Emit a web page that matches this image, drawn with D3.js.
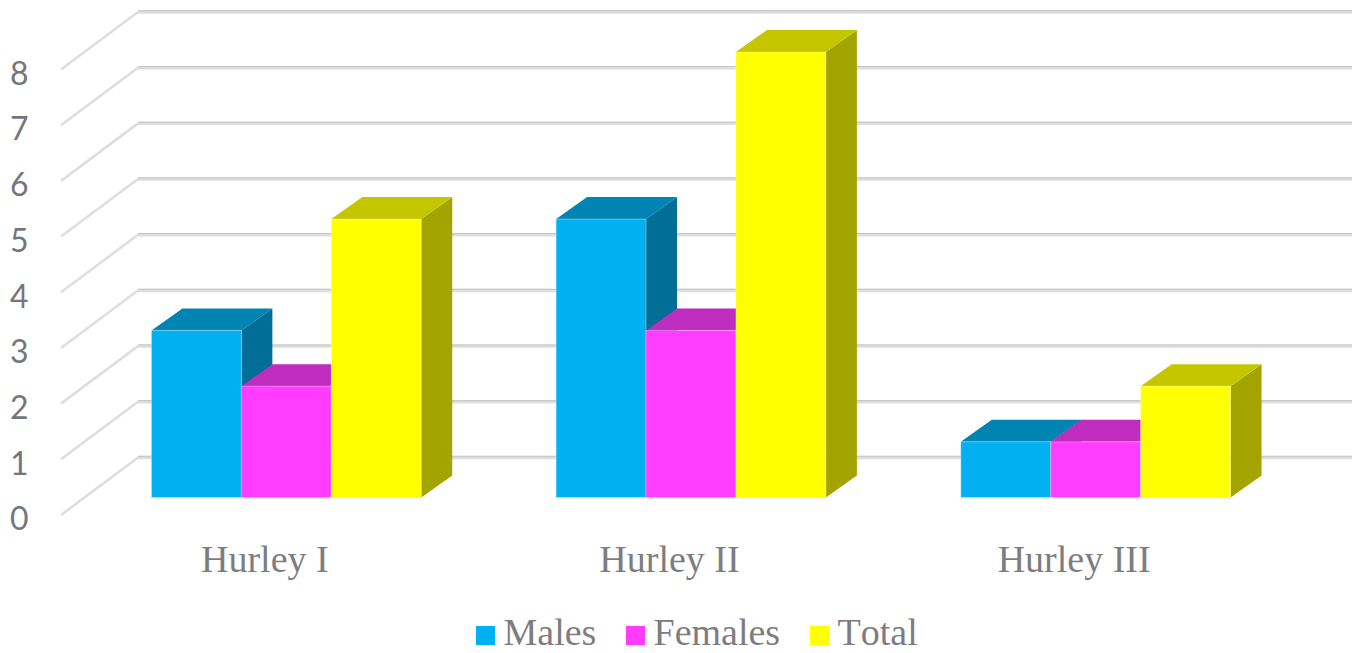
<!DOCTYPE html>
<html>
<head>
<meta charset="utf-8">
<script src="https://cdn.jsdelivr.net/npm/d3@7"></script>
<style>
html,body{margin:0;padding:0;background:#fff;overflow:hidden}
svg{display:block}
.tick-label{font-family:Lato,"Open Sans",sans-serif;font-size:32px;fill:#76767a}
.serif{font-family:"Liberation Serif",serif;font-size:38px;fill:#7d7d81}
.legend-label{font-kerning:none}
</style>
</head>
<body>
<svg id="chart" width="1356" height="653"></svg>
<script>
// Patient counts per Hurley stage
const categories = ["Hurley I", "Hurley II", "Hurley III"];
const seriesNames = ["Males", "Females", "Total"];
const males = [3, 5, 1];
const females = [2, 3, 1];
const total = [5, 8, 2];
const tickValues = [0, 1, 2, 3, 4, 5, 6, 7, 8];

const seriesValues = [males, females, total];
const palette = [
  {front: "#00b0f0", top: "#0084b4", side: "#006e96"},
  {front: "#ff3cff", top: "#bf2dbf", side: "#a028a0"},
  {front: "#ffff00", top: "#c6c600", side: "#a4a400"}
];

const svg = d3.select("#chart");

// Front plane of the bars
const y = d3.scaleLinear().domain([0, 8]).range([497.5, 52]);
const x0 = d3.scaleBand().domain(categories).range([84, 1298])
  .paddingInner(1 / 3).paddingOuter(1 / 6);
const x1 = d3.scaleBand().domain(seriesNames).range([0, x0.bandwidth()]);

// Oblique projection offsets
const barDepth = {dx: 31, dy: -22};
const wallBack = {dx: 54, dy: -40};     // from the bar plane to the back wall
const wallFront = {dx: -23, dy: 17.5};  // from the bar plane to the axis edge
const wallRight = 1352;

// Gridlines: side wall segment plus back wall segment
const grid = svg.append("g");
tickValues.forEach(v => {
  const yBack = y(v) + wallBack.dy;
  const xBack = x0.range()[0] + wallBack.dx;
  grid.append("path")
    .attr("d", `M${x0.range()[0] + wallFront.dx},${y(v) + wallFront.dy}L${xBack},${yBack}`)
    .attr("fill", "none").attr("stroke", "#dedede").attr("stroke-width", 2.6);
  grid.append("line")
    .attr("x1", xBack).attr("x2", wallRight)
    .attr("y1", yBack).attr("y2", yBack)
    .attr("stroke", "#dedede").attr("stroke-width", 3.4);
  grid.append("line")
    .attr("x1", xBack).attr("x2", wallRight)
    .attr("y1", yBack - 1.2).attr("y2", yBack - 1.2)
    .attr("stroke", "#c4c4c4").attr("stroke-width", 1);
});

// Value axis labels
const axis = d3.axisLeft(y).tickValues(tickValues).tickSize(0).tickPadding(0);
const axisG = svg.append("g").attr("transform", "translate(28.5,22)").call(axis);
axisG.select(".domain").remove();
axisG.selectAll("text").attr("class", "tick-label").attr("text-anchor", "end")
  .attr("font-family", null).attr("font-size", null).attr("fill", null);
axisG.attr("font-family", null).attr("font-size", null);

// Bars, painted left to right so later faces cover earlier sides
const bars = svg.append("g");
categories.forEach((cat, c) => {
  seriesNames.forEach((name, s) => {
    const v = seriesValues[s][c];
    const xl = x0(cat) + x1(name);
    const xr = xl + x1.bandwidth();
    const yt = y(v);
    const yb = y(0);
    const {dx, dy} = barDepth;
    const g = bars.append("g");
    g.append("polygon")
      .attr("points", [[xr, yt], [xr + dx, yt + dy], [xr + dx, yb + dy], [xr, yb]].join(" "))
      .attr("fill", palette[s].side);
    g.append("polygon")
      .attr("points", [[xl, yt], [xl + dx, yt + dy], [xr + dx, yt + dy], [xr, yt]].join(" "))
      .attr("fill", palette[s].top);
    g.append("rect")
      .attr("x", xl).attr("y", yt)
      .attr("width", xr - xl).attr("height", yb - yt)
      .attr("fill", palette[s].front)
      .attr("stroke", "#ffffff").attr("stroke-opacity", 0.3).attr("stroke-width", 1);
  });
  // Faint outline along the foot of the group
  bars.append("line")
    .attr("x1", x0(cat)).attr("x2", x0(cat) + x0.bandwidth())
    .attr("y1", y(0) + 0.5).attr("y2", y(0) + 0.5)
    .attr("stroke", "#dddddd").attr("stroke-width", 1);
});

// Category labels
svg.append("g").selectAll("text").data(categories).join("text")
  .attr("class", "serif")
  .attr("text-anchor", "middle")
  .attr("x", d => x0(d) + x0.bandwidth() / 2 - 21.5)
  .attr("y", 572)
  .text(d => d);

// Legend
const legendSwatchX = [476, 626, 810];
const legend = svg.append("g");
seriesNames.forEach((name, i) => {
  legend.append("rect")
    .attr("x", legendSwatchX[i]).attr("y", 626)
    .attr("width", 19).attr("height", 19)
    .attr("fill", palette[i].front);
  legend.append("text")
    .attr("class", "serif legend-label")
    .attr("x", legendSwatchX[i] + 27.5).attr("y", 644.5)
    .text(name);
});
</script>
</body>
</html>
